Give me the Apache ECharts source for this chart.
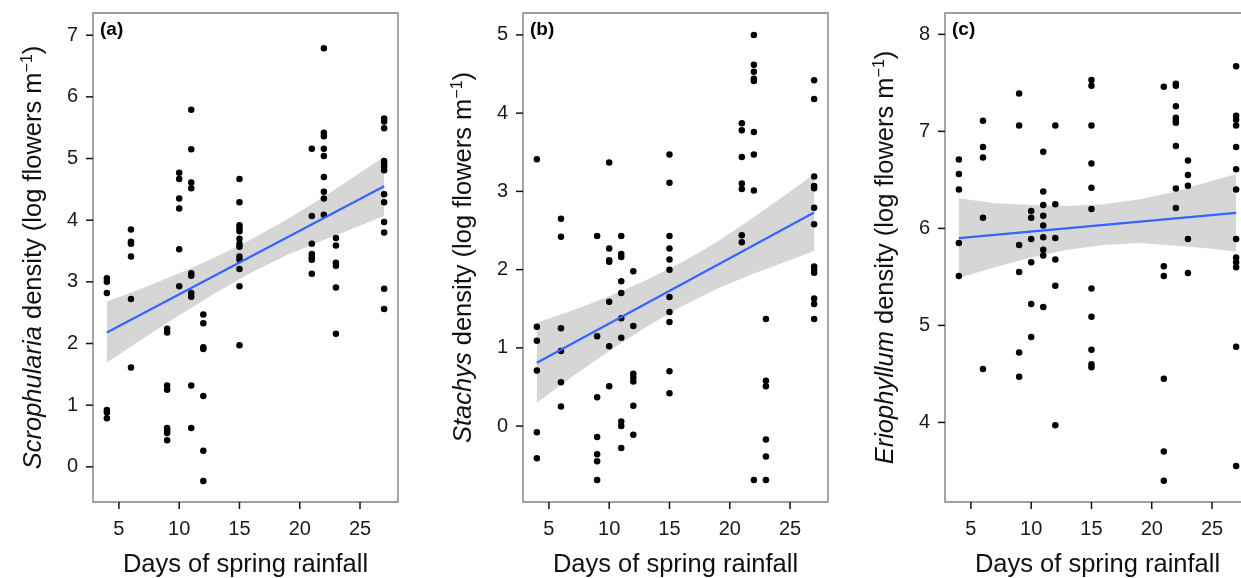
<!DOCTYPE html>
<html>
<head>
<meta charset="utf-8">
<script src="https://cdn.jsdelivr.net/npm/echarts@6/dist/echarts.min.js"></script>
<style>
html,body{margin:0;padding:0;background:#fff;}
#chart{width:1241px;height:578px;}
</style>
</head>
<body>
<div id="chart"></div>
<script>
// ---------- data ----------
const xTicks = [5, 10, 15, 20, 25];
const yTicksA = [0, 1, 2, 3, 4, 5, 6, 7];
const yTicksB = [0, 1, 2, 3, 4, 5];
const yTicksC = [4, 5, 6, 7, 8];

// Scrophularia: [days of spring rainfall, log flowers m-1]
const pointsA = [
  [4,3.06],[4,3.00],[4,2.82],[4,0.92],[4,0.88],[4,0.79],
  [6,3.85],[6,3.65],[6,3.62],[6,3.41],[6,2.72],[6,1.61],
  [9,2.24],[9,2.18],[9,1.32],[9,1.25],[9,0.63],[9,0.59],[9,0.55],[9,0.43],
  [10,4.77],[10,4.67],[10,4.35],[10,4.19],[10,3.53],[10,2.93],
  [11,5.79],[11,5.15],[11,4.61],[11,4.52],[11,3.14],[11,3.10],[11,2.82],[11,2.76],[11,1.32],[11,0.63],
  [12,2.47],[12,2.33],[12,1.94],[12,1.91],[12,1.15],[12,0.26],[12,-0.23],
  [15,4.67],[15,4.29],[15,3.92],[15,3.87],[15,3.82],[15,3.70],[15,3.62],[15,3.57],[15,3.41],[15,3.36],[15,3.21],[15,2.93],[15,1.97],
  [21,5.16],[21,4.07],[21,3.62],[21,3.45],[21,3.40],[21,3.36],[21,3.13],
  [22,6.79],[22,5.42],[22,5.36],[22,5.16],[22,5.04],[22,4.70],[22,4.46],[22,4.35],[22,4.09],
  [23,3.71],[23,3.59],[23,3.31],[23,3.26],[23,2.91],[23,2.16],
  [27,5.65],[27,5.60],[27,5.49],[27,4.96],[27,4.91],[27,4.87],[27,4.81],[27,4.42],[27,4.29],[27,3.97],[27,3.80],[27,2.89],[27,2.56]
];
// Stachys
const pointsB = [
  [4,3.41],[4,1.27],[4,1.09],[4,0.71],[4,-0.08],[4,-0.41],
  [6,2.65],[6,2.42],[6,1.25],[6,0.96],[6,0.56],[6,0.25],
  [9,2.43],[9,1.15],[9,0.37],[9,-0.14],[9,-0.36],[9,-0.45],[9,-0.69],
  [10,3.37],[10,2.27],[10,2.12],[10,2.10],[10,1.59],[10,1.02],[10,0.51],
  [11,2.43],[11,2.20],[11,2.16],[11,1.85],[11,1.70],[11,1.38],[11,1.13],[11,0.06],[11,0.00],[11,-0.28],
  [12,1.98],[12,1.28],[12,0.67],[12,0.62],[12,0.57],[12,0.26],[12,-0.11],
  [15,3.47],[15,3.11],[15,2.43],[15,2.27],[15,2.13],[15,2.00],[15,1.65],[15,1.46],[15,1.33],[15,0.70],[15,0.42],
  [21,3.87],[21,3.78],[21,3.44],[21,3.10],[21,3.03],[21,2.44],[21,2.35],
  [22,5.00],[22,4.62],[22,4.53],[22,4.44],[22,4.41],[22,3.76],[22,3.47],[22,3.01],[22,-0.69],
  [23,1.37],[23,0.58],[23,0.51],[23,-0.17],[23,-0.39],[23,-0.69],
  [27,4.42],[27,4.18],[27,3.19],[27,3.07],[27,3.04],[27,2.79],[27,2.58],[27,2.04],[27,2.00],[27,1.96],[27,1.63],[27,1.56],[27,1.37]
];
// Eriophyllum
const pointsC = [
  [4,6.71],[4,6.56],[4,6.40],[4,5.85],[4,5.51],
  [6,7.11],[6,6.84],[6,6.73],[6,6.11],[6,4.55],
  [9,7.39],[9,7.06],[9,5.83],[9,5.55],[9,4.72],[9,4.47],
  [10,6.18],[10,6.11],[10,5.89],[10,5.65],[10,5.22],[10,4.88],
  [11,6.79],[11,6.38],[11,6.24],[11,6.13],[11,6.03],[11,5.91],[11,5.78],[11,5.72],[11,5.19],
  [12,7.06],[12,6.25],[12,5.90],[12,5.68],[12,5.41],[12,3.97],
  [15,7.53],[15,7.47],[15,7.06],[15,6.67],[15,6.42],[15,6.20],[15,5.38],[15,5.09],[15,4.75],[15,4.60],[15,4.57],
  [21,7.46],[21,5.61],[21,5.51],[21,4.45],[21,3.70],[21,3.40],
  [22,7.49],[22,7.47],[22,7.26],[22,7.14],[22,7.11],[22,7.09],[22,6.85],[22,6.41],[22,6.21],
  [23,6.70],[23,6.55],[23,6.44],[23,5.89],[23,5.54],
  [27,7.67],[27,7.16],[27,7.12],[27,7.06],[27,6.84],[27,6.61],[27,6.40],[27,5.89],[27,5.70],[27,5.65],[27,5.60],[27,4.78],[27,3.55]
];

// fitted lines (endpoints) and confidence bands
const fitDays = [4, 27];
const fitA = [2.18, 4.55];
const fitB = [0.81, 2.73];
const fitC = [5.90, 6.16];
const bandDays = [4, 7, 10, 13, 16, 19, 22, 25, 27];
const upperA = [2.68, 2.90, 3.14, 3.40, 3.69, 4.02, 4.38, 4.77, 5.03];
const lowerA = [1.69, 2.08, 2.46, 2.82, 3.15, 3.44, 3.68, 3.91, 4.07];
const upperB = [1.32, 1.48, 1.66, 1.86, 2.09, 2.36, 2.67, 3.00, 3.22];
const lowerB = [0.30, 0.64, 0.96, 1.26, 1.53, 1.76, 1.95, 2.12, 2.24];
const upperC = [6.31, 6.26, 6.24, 6.23, 6.25, 6.30, 6.38, 6.49, 6.56];
const lowerC = [5.49, 5.60, 5.70, 5.78, 5.83, 5.85, 5.82, 5.79, 5.76];

const genera = ['Scrophularia', 'Stachys', 'Eriophyllum'];
const panelLabels = ['(a)', '(b)', '(c)'];
const xTitle = 'Days of spring rainfall';

// ---------- chart ----------
const FONT = '"Liberation Sans", Arial, Helvetica, sans-serif';
const X_MIN = 2.85, X_MAX = 28.15;
const panels = [
  {left: 93,  pts: pointsA, fit: fitA, up: upperA, lo: lowerA, ymin: -0.57, ymax: 7.36, ticks: yTicksA},
  {left: 523, pts: pointsB, fit: fitB, up: upperB, lo: lowerB, ymin: -0.97, ymax: 5.28, ticks: yTicksB},
  {left: 945, pts: pointsC, fit: fitC, up: upperC, lo: lowerC, ymin: 3.18, ymax: 8.22, ticks: yTicksC}
];
const W = 305, TOP = 13, BOTTOM = 76;
const FRAME = '#808080';
const TICK_LEN = 7;

const grid = [], xAxis = [], yAxis = [], series = [], graphic = [];
panels.forEach((p, i) => {
  grid.push({left: p.left, top: TOP, width: W, bottom: BOTTOM, show: true,
    outerBoundsMode: 'none',
    borderColor: FRAME, borderWidth: 1.4, backgroundColor: 'transparent'});
  xAxis.push({type: 'value', gridIndex: i, min: X_MIN, max: X_MAX,
    axisLine: {show: false, onZero: false}, splitLine: {show: false},
    axisTick: {show: false},
    axisLabel: {customValues: xTicks, margin: 8, padding: [9, 0, 0, 0],
      fontSize: 20, color: '#1a1a1a', fontFamily: FONT},
    name: xTitle, nameLocation: 'middle', nameGap: 50,
    nameTextStyle: {fontSize: 25.5, color: '#111', fontFamily: FONT}
  });
  yAxis.push({type: 'value', gridIndex: i, min: p.ymin, max: p.ymax,
    axisLine: {show: false, onZero: false}, splitLine: {show: false},
    axisTick: {show: false},
    axisLabel: {customValues: p.ticks, margin: 8, padding: [0, 7, 0, 0],
      fontSize: 20, color: '#1a1a1a', fontFamily: FONT},
    name: '{i|' + genera[i] + '} density (log flowers m{s|\u22121})',
    nameLocation: 'middle', nameRotate: 90, nameGap: 45,
    nameTextStyle: {fontSize: 25.5, color: '#111', fontFamily: FONT, lineHeight: 28,
      rich: {
        i: {fontStyle: 'italic', fontSize: 25.5, fontFamily: FONT, color: '#111', lineHeight: 28},
        s: {fontSize: 16, fontFamily: FONT, color: '#111', verticalAlign: 'top', lineHeight: 15}
      }}
  });
  series.push({type: 'custom', xAxisIndex: i, yAxisIndex: i, z: 1, silent: true,
    data: [[bandDays[0], p.lo[0]]],
    renderItem: (params, api) => {
      const pts = [];
      for (let k = 0; k < bandDays.length; k++) pts.push(api.coord([bandDays[k], p.up[k]]));
      for (let k = bandDays.length - 1; k >= 0; k--) pts.push(api.coord([bandDays[k], p.lo[k]]));
      return {type: 'polygon', shape: {points: pts}, style: {fill: 'rgba(153,153,153,0.4)'}};
    }});
  series.push({type: 'scatter', xAxisIndex: i, yAxisIndex: i, data: p.pts,
    symbol: 'circle', symbolSize: 6.5, itemStyle: {color: '#000', opacity: 1}, z: 2, silent: true});
  series.push({type: 'line', xAxisIndex: i, yAxisIndex: i, z: 3, silent: true,
    data: fitDays.map((d, k) => [d, p.fit[k]]), showSymbol: false,
    lineStyle: {color: '#3366FF', width: 2.2}});
  graphic.push({type: 'text', left: p.left + 7, top: 20,
    style: {text: panelLabels[i], font: 'bold 19px ' + FONT, fill: '#000'}});
});

const chart = echarts.init(document.getElementById('chart'), null, {renderer: 'canvas'});
chart.setOption({animation: false, backgroundColor: '#fff', grid, xAxis, yAxis, series, graphic});

// tick marks: positions come from the chart's own axis scales at the tick values
const tickStyle = {stroke: '#111', lineWidth: 1.5};
const tickGraphics = graphic.slice();
panels.forEach((p, i) => {
  xTicks.forEach(t => {
    const c = chart.convertToPixel({gridIndex: i}, [t, p.ymin]);
    tickGraphics.push({type: 'line', z: 100, silent: true,
      shape: {x1: c[0], y1: c[1], x2: c[0], y2: c[1] + TICK_LEN}, style: tickStyle});
  });
  p.ticks.forEach(t => {
    const c = chart.convertToPixel({gridIndex: i}, [X_MIN, t]);
    tickGraphics.push({type: 'line', z: 100, silent: true,
      shape: {x1: c[0] - TICK_LEN, y1: c[1], x2: c[0], y2: c[1]}, style: tickStyle});
  });
});
chart.setOption({graphic: tickGraphics});
</script>
</body>
</html>
